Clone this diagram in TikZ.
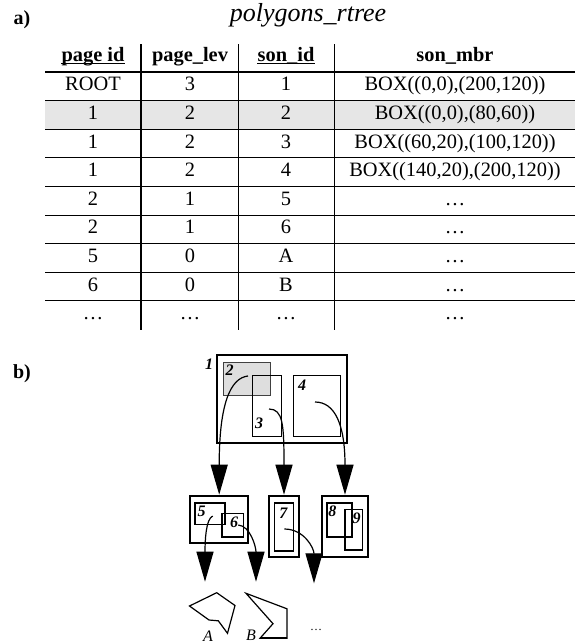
\documentclass[tikz,border=0pt]{standalone}
\usepackage{fontspec}
\setmainfont{Liberation Serif}
\usetikzlibrary{arrows.meta}
\definecolor{rowgray}{HTML}{E6E6E6}
\definecolor{boxgray}{HTML}{DEDEDE}

\begin{document}
\begin{tikzpicture}[x=0.5pt,y=-0.5pt,
    cell/.style={anchor=base,font=\fontsize{10.2}{12}\selectfont},
    head/.style={anchor=base,inner sep=0pt,font=\fontsize{10.2}{12}\selectfont\bfseries},
    tag/.style={font=\fontsize{10}{12}\selectfont\bfseries},
    num/.style={font=\fontsize{8}{9}\selectfont\bfseries\itshape,inner sep=0pt},
    page/.style={draw,line width=1pt,inner sep=0pt},
    down/.style={line width=0.6pt,-{Triangle[length=15pt,width=8.5pt]}}]
  \useasboundingbox (0,0) rectangle (580,643);
  % a) the table
  \node[tag] (taga) at (22,20) {a)};
  \node[anchor=base,font=\fontsize{13}{15}\selectfont\itshape] (title) at (308,21) {polygons\_rtree};
  \fill[rowgray] (45,100.6) rectangle (575,129.2);
  \node[head] (hpid) at (93,61) {page id};
  \node[head] (hlev) at (190,61) {page\_lev};
  \node[head] (hsid) at (286,61) {son\_id};
  \node[head] (hmbr) at (455,61) {son\_mbr};
  \foreach \h in {hpid,hsid}
    \draw[line width=0.6pt] ([yshift=-1.1pt]\h.base west) -- ([yshift=-1.1pt]\h.base east);
  \foreach \a/\b/\c/\d [count=\i] in {ROOT/3/1/{BOX((0,0),(200,120))},1/2/2/{BOX((0,0),(80,60))},
      1/2/3/{BOX((60,20),(100,120))},1/2/4/{BOX((140,20),(200,120))},2/1/5/\dots,2/1/6/\dots,
      5/0/A/\dots,6/0/B/\dots,\dots/\dots/\dots/\dots} {
    \node[cell] (pid\i) at (93,{72+(\i-0.5)*28.6+4.6}) {\a};
    \node[cell] (lev\i) at (190,{72+(\i-0.5)*28.6+4.6}) {\b};
    \node[cell] (sid\i) at (286,{72+(\i-0.5)*28.6+4.6}) {\c};
    \node[cell] (mbr\i) at (455,{72+(\i-0.5)*28.6+4.6}) {\d};
  }
  \draw[line width=1pt] (45,72) -- (575,72);
  \foreach \k in {1,...,8} \draw[line width=0.5pt] (45,{72+\k*28.6}) -- (575,{72+\k*28.6});
  \draw[line width=1pt] (141,44) -- (141,330);
  \foreach \x in {238,334} \draw[line width=0.5pt] (\x,44) -- (\x,330);

  % b) the tree
  \node[tag] (tagb) at (22,374) {b)};
  \draw[line width=1pt] (216.7,355) rectangle (346.7,442.7);
  \filldraw[fill=boxgray,draw=black!75,line width=0.5pt] (223.3,362.3) rectangle (270,395.7);
  \draw[line width=0.5pt] (252.7,375.7) rectangle (281.7,436);
  \draw[line width=0.5pt] (293.3,375.7) rectangle (340,436);
  \node[num] (n1) at (209,364) {1}; \node[num] (n2) at (229.5,370) {2};
  \node[num] (n3) at (259,423) {3}; \node[num] (n4) at (302,385) {4};
  \node[page,minimum width=29.2pt,minimum height=23.5pt] (p2) at (219.2,519.2) {};
  \node[page,minimum width=15pt,minimum height=30.8pt] (p3) at (284,526.5) {};
  \node[page,minimum width=23.3pt,minimum height=30.8pt] (p4) at (345,526.5) {};
  \foreach \xa/\ya/\xb/\yb in {195/502.7/225/524.3,221.7/513.3/243.3/536.7,274.3/502.7/293.3/550.7,
      326.7/502.7/351.7/536.7,345/509.3/362.3/550}
    \draw[line width=0.8pt] (\xa,\ya) rectangle (\xb,\yb);
  \node[num] (n5) at (201.7,511.7) {5}; \node[num] (n6) at (234,522.7) {6};
  \node[num] (n7) at (283.3,513.3) {7}; \node[num] (n8) at (332.3,511.7) {8};
  \node[num] (n9) at (356.7,518.3) {9};
  \coordinate (s2) at (248,376); \coordinate (s3) at (269,409); \coordinate (s4) at (315,402);
  \coordinate (s5) at (212.7,516); \coordinate (s6) at (238.3,525); \coordinate (s7) at (284.3,529);
  \coordinate (tA) at (205,581.7); \coordinate (tB) at (256,581.7); \coordinate (tC) at (314,583.3);
  \draw[down] (s2) .. controls +(-18,2) and +(0,-90) .. (p2.north);
  \draw[down] (s3) .. controls +(14,0) and +(0,-70) .. (p3.north);
  \draw[down] (s4) .. controls +(20,0) and +(0,-70) .. (p4.north);
  \draw[down] (s5) .. controls +(-7,3) and +(0,-40) .. (tA);
  \draw[down] (s6) .. controls +(12,1) and +(0,-35) .. (tB);
  \draw[down] (s7) .. controls +(20,0) and +(0,-35) .. (tC);
  % the data objects
  \draw[line width=0.6pt] (189.5,606) -- (216.7,592.7) -- (235,605.5) -- (227.5,633.3) -- (218.3,620.8) -- (209,620) -- cycle;
  \draw[line width=0.6pt] (246,593.3) -- (287,608.8) -- (287,638.3) -- (260,638.3) -- (273,623.7) -- cycle;
  \draw[line width=1pt] (260,638.3) -- (287,638.3);
  \node[font=\fontsize{8}{9}\selectfont\itshape] (objA) at (208,636) {A};
  \node[font=\fontsize{8}{9}\selectfont\itshape] (objB) at (251,635) {B};
  \node[font=\fontsize{6}{7}\selectfont] (more) at (316,630) {\dots};
\end{tikzpicture}
\end{document}
